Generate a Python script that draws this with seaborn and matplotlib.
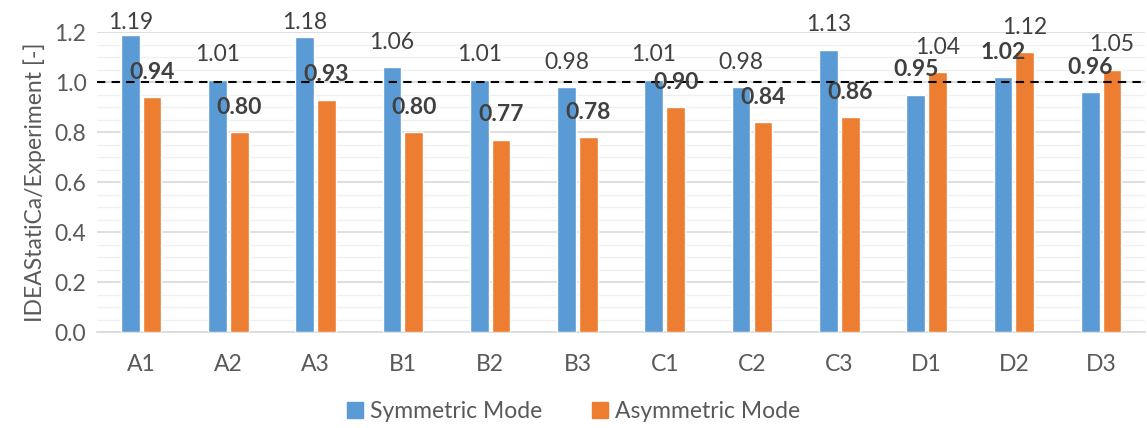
import numpy as np
import pandas as pd
import matplotlib
matplotlib.use("Agg")
import matplotlib.pyplot as plt
import matplotlib.patches as mpatches
from matplotlib.ticker import MultipleLocator
import seaborn as sns

# ── Data ──────────────────────────────────────────────────────────────────────
specimens = ['A1', 'A2', 'A3', 'B1', 'B2', 'B3', 'C1', 'C2', 'C3', 'D1', 'D2', 'D3']
symmetric = [1.19, 1.01, 1.18, 1.06, 1.01, 0.98, 1.01, 0.98, 1.13, 0.95, 1.02, 0.96]
asymmetric = [0.94, 0.80, 0.93, 0.80, 0.77, 0.78, 0.90, 0.84, 0.86, 1.04, 1.12, 1.05]
modes = ['Symmetric Mode', 'Asymmetric Mode']
y_ticks = [0.0, 0.2, 0.4, 0.6, 0.8, 1.0, 1.2]

BLUE = '#5B9BD5'
ORANGE = '#ED7D31'
TXT = '#595959'
FS = 16.5

df = pd.DataFrame({
    'specimen': specimens * 2,
    'ratio': symmetric + asymmetric,
    'mode': [modes[0]] * len(specimens) + [modes[1]] * len(specimens),
})

# ── Settings ──────────────────────────────────────────────────────────────────
sns.set_theme(style="white")
plt.rcParams['font.family'] = ['Lato', 'DejaVu Sans']

fig = plt.figure(figsize=(11.47, 4.28), dpi=100)
ax = fig.add_axes([0.085, 0.224, 0.913, 0.701])

sns.barplot(data=df, x='specimen', y='ratio', hue='mode', order=specimens,
            hue_order=modes, palette=[BLUE, ORANGE], width=0.5, gap=0.14,
            saturation=1, legend=False, ax=ax, zorder=3)

ax.set_ylim(0, 1.2)
ax.set_xlim(-0.5, len(specimens) - 0.5)
ax.set_yticks(y_ticks)
ax.set_yticklabels([f'{t:.1f}' for t in y_ticks])
ax.yaxis.set_minor_locator(MultipleLocator(0.05))
ax.grid(axis='y', which='major', color='#D9D9D9', linewidth=1.2, zorder=0)
ax.grid(axis='y', which='minor', color='#F0F0F0', linewidth=1.0, zorder=0)
ax.set_axisbelow(True)
ax.tick_params(axis='both', which='both', length=0, labelsize=FS, colors=TXT)
ax.tick_params(axis='x', pad=16)
ax.tick_params(axis='y', pad=8)
for s in ['top', 'right', 'left']:
    ax.spines[s].set_visible(False)
ax.spines['bottom'].set_color('#D9D9D9')
ax.spines['bottom'].set_linewidth(1.2)

ax.set_xlabel('')
ax.set_ylabel('IDEAStatiCa/Experiment [-]', fontsize=FS, color=TXT, labelpad=6)

# reference line
ax.axhline(1.0, color='black', linestyle=(0, (4, 3)), linewidth=1.5, zorder=4)

# value labels: the lower bar of each pair gets the bold label
for k, cont in enumerate(ax.containers):
    vals = symmetric if k == 0 else asymmetric
    other = asymmetric if k == 0 else symmetric
    for bar, v, o in zip(cont.patches, vals, other):
        bold = v < o
        ypos = min(v + 0.1, 1.24)
        ax.text(bar.get_x() + bar.get_width() / 2, ypos, f'{v:.2f}',
                ha='center', va='center', fontsize=FS,
                fontweight='bold' if bold else 'normal',
                color='#404040', clip_on=False, zorder=5)

handles = [mpatches.Patch(color=BLUE, label=modes[0]),
           mpatches.Patch(color=ORANGE, label=modes[1])]
fig.legend(handles=handles, loc='lower center', ncol=2, frameon=False,
           fontsize=FS, handlelength=0.7, handleheight=0.7,
           handletextpad=0.3, columnspacing=2.2, bbox_to_anchor=(0.5, -0.035),
           labelcolor=TXT)

fig.savefig('out.png', dpi=100)
